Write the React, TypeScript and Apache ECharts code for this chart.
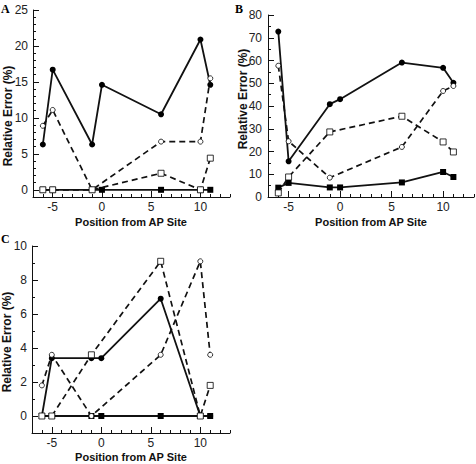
import React, { useEffect, useRef } from "react";
import * as echarts from "echarts";

// Positions from AP site
const posAll = [-6, -5, -1, 0, 6, 10, 11];
const posOpen = [-6, -5, -1, 6, 10, 11];

// Panel A
const aFilledCircle = [6.3, 16.7, 6.3, 14.6, 10.5, 20.9, 14.6];
const aOpenCircle = [8.9, 11.1, 0, 6.7, 6.7, 15.5];
const aOpenSquare = [0, 0, 0, 2.3, 0, 4.4];
const aFilledSquare = [0, 0, 0, 0, 0, 0, 0];

// Panel B
const bFilledCircle = [72.7, 15.7, 40.8, 43.0, 59.1, 56.8, 50.2];
const bOpenCircle = [57.7, 24.5, 8.5, 22.0, 46.6, 48.8];
const bOpenSquare = [1.8, 8.8, 28.6, 35.5, 24.2, 19.8];
const bFilledSquare = [4.1, 6.2, 4.2, 4.2, 6.4, 11.0, 8.8];

// Panel C
const cFilledCircle = [0, 3.4, 3.4, 3.4, 6.9, 0, 0];
const cOpenCircle = [1.8, 3.6, 0, 3.6, 9.1, 3.6];
const cOpenSquare = [0, 0, 3.6, 9.1, 0, 1.8];
const cFilledSquare = [0, 0, 0, 0, 0, 0, 0];

// Tick labels
const xMajor = [-5, 0, 5, 10];
const aYMajor = [0, 5, 10, 15, 20, 25];
const bYMajor = [0, 10, 20, 30, 40, 50, 60, 70, 80];
const cYMajor = [0, 2, 4, 6, 8, 10];

const xTitle = "Position from AP Site";
const yTitle = "Relative Error (%)";

const zip = (xs: number[], ys: number[]) => xs.map((x, i) => [x, ys[i]]);

const FONT = "Liberation Sans, Arial, Helvetica, sans-serif";
const INK = "#111";

export default function App() {
  const ref = useRef<HTMLDivElement>(null);

  useEffect(() => {
    if (!ref.current) return;
    const chart = echarts.init(ref.current, undefined, { renderer: "svg" });

    const grids = [
      { left: 33, top: 10, width: 197, height: 187 },
      { left: 268, top: 15, width: 206, height: 182 },
      { left: 32, top: 246, width: 198, height: 187 },
    ];
    const yConf = [
      { min: -1, max: 25, minor: 1, major: aYMajor, margin: 5 },
      { min: 0, max: 80, minor: 5, major: bYMajor, margin: 6 },
      { min: -1, max: 10, minor: 1, major: cYMajor, margin: 5 },
    ];

    const xAxes: any[] = [];
    const yAxes: any[] = [];
    grids.forEach((_, g) => {
      xAxes.push({
        type: "value",
        gridIndex: g,
        min: -7,
        max: 13,
        interval: 1,
        position: "bottom",
        axisLine: { show: true, onZero: false, lineStyle: { color: INK, width: 1 } },
        axisTick: { show: true, inside: true, length: 3, lineStyle: { color: INK } },
        axisLabel: { show: false },
        splitLine: { show: false },
      });
      xAxes.push({
        type: "value",
        gridIndex: g,
        min: -7,
        max: 13,
        position: "bottom",
        axisLine: { show: false, onZero: false },
        axisTick: { show: true, inside: true, length: 6, customValues: xMajor, lineStyle: { color: INK } },
        axisLabel: {
          show: true,
          customValues: xMajor,
          margin: 4,
          color: "#222",
          fontSize: 12,
          fontFamily: FONT,
        },
        splitLine: { show: false },
      });
      const yc = yConf[g];
      yAxes.push({
        type: "value",
        gridIndex: g,
        min: yc.min,
        max: yc.max,
        interval: yc.minor,
        position: "left",
        axisLine: { show: true, onZero: false, lineStyle: { color: INK, width: 1 } },
        axisTick: { show: true, inside: true, length: 3, lineStyle: { color: INK } },
        axisLabel: { show: false },
        splitLine: { show: false },
      });
      yAxes.push({
        type: "value",
        gridIndex: g,
        min: yc.min,
        max: yc.max,
        position: "left",
        axisLine: { show: false, onZero: false },
        axisTick: { show: true, inside: true, length: 6, customValues: yc.major, lineStyle: { color: INK } },
        axisLabel: {
          show: true,
          customValues: yc.major,
          margin: yc.margin,
          color: "#222",
          fontSize: 12,
          fontFamily: FONT,
        },
        splitLine: { show: false },
      });
    });

    const panelData = [
      [aFilledSquare, aFilledCircle, aOpenCircle, aOpenSquare],
      [bFilledSquare, bFilledCircle, bOpenCircle, bOpenSquare],
      [cFilledSquare, cFilledCircle, cOpenCircle, cOpenSquare],
    ];

    const dash = [6, 4];
    const series: any[] = [];
    panelData.forEach((d, g) => {
      const ax = { xAxisIndex: 2 * g, yAxisIndex: 2 * g };
      series.push({
        type: "line",
        ...ax,
        name: "filled square",
        data: zip(posAll, d[0]),
        symbol: "rect",
        symbolSize: 6,
        itemStyle: { color: "#000" },
        lineStyle: { color: INK, width: 1.8, type: "solid" },
        z: 2,
      });
      series.push({
        type: "line",
        ...ax,
        name: "filled circle",
        data: zip(posAll, d[1]),
        symbol: "circle",
        symbolSize: 6,
        itemStyle: { color: "#000" },
        lineStyle: { color: INK, width: 1.8, type: "solid" },
        z: 3,
      });
      series.push({
        type: "line",
        ...ax,
        name: "open circle",
        data: zip(posOpen, d[2]),
        symbol: "circle",
        symbolSize: 5,
        itemStyle: { color: "#fff", borderColor: "#000", borderWidth: 0.8 },
        lineStyle: { color: INK, width: 1.7, type: dash },
        z: 4,
      });
      series.push({
        type: "line",
        ...ax,
        name: "open square",
        data: zip(posOpen, d[3]),
        symbol: "rect",
        symbolSize: 6,
        itemStyle: { color: "#fff", borderColor: "#000", borderWidth: 0.8 },
        lineStyle: { color: INK, width: 1.7, type: dash },
        z: 5,
      });
    });

    const titleStyle = {
      fontSize: 11,
      fontWeight: "bold",
      fontFamily: FONT,
      fill: INK,
      textAlign: "center",
      textVerticalAlign: "middle",
    };
    const yTitleStyle = { ...titleStyle, fontSize: 12 };
    const letterStyle = {
      fontSize: 12,
      fontWeight: "bold",
      fontFamily: "Liberation Serif, Times New Roman, serif",
      fill: "#000",
    };

    chart.setOption({
      animation: false,
      grid: grids,
      xAxis: xAxes,
      yAxis: yAxes,
      series,
      graphic: [
        { type: "text", x: 1, y: 3, style: { ...letterStyle, text: "A" } },
        { type: "text", x: 235, y: 3, style: { ...letterStyle, text: "B" } },
        { type: "text", x: 1, y: 233, style: { ...letterStyle, text: "C" } },
        { type: "text", x: 131, y: 222, style: { ...titleStyle, text: xTitle } },
        { type: "text", x: 371, y: 222, style: { ...titleStyle, text: xTitle } },
        { type: "text", x: 131, y: 457, style: { ...titleStyle, text: xTitle } },
        { type: "text", x: 8, y: 116, rotation: Math.PI / 2, style: { ...yTitleStyle, text: yTitle } },
        { type: "text", x: 243, y: 99, rotation: Math.PI / 2, style: { ...yTitleStyle, text: yTitle } },
        { type: "text", x: 7, y: 342, rotation: Math.PI / 2, style: { ...yTitleStyle, text: yTitle } },
      ],
    });

    return () => chart.dispose();
  }, []);

  return (
    <div
      ref={ref}
      style={{ position: "absolute", left: 0, top: 0, width: 476, height: 464 }}
    />
  );
}
